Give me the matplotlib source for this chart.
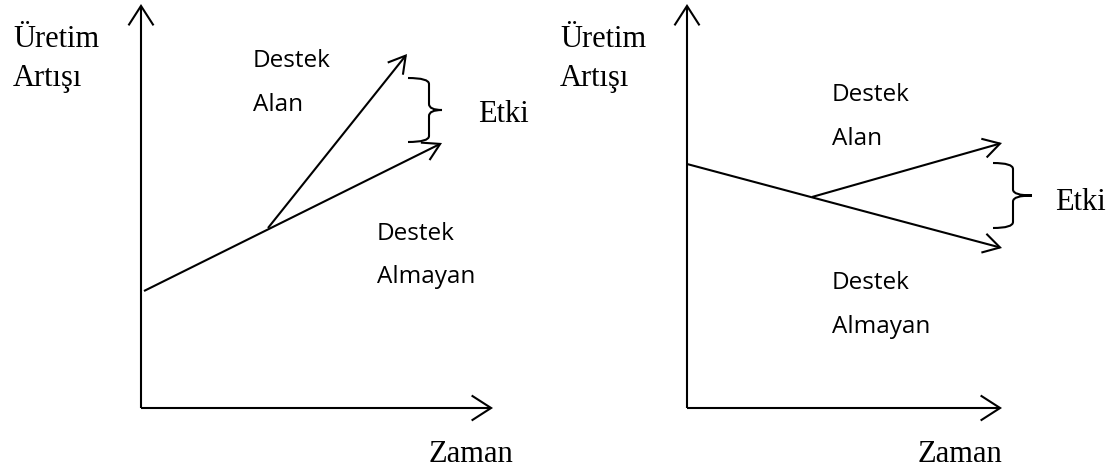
import matplotlib
matplotlib.use("Agg")
import matplotlib.pyplot as plt
from matplotlib.patches import FancyArrowPatch, PathPatch
from matplotlib.path import Path

# schematic values, measured from the origin of each panel (x = Zaman, y = Üretim Artışı)
axis_len_left = [352, 404]      # x-axis length, y-axis length
axis_len_right = [315, 404]

left_almayan_x = [3, 301]
left_almayan_y = [117, 265]
left_alan_x = [127, 266]
left_alan_y = [180, 354]
left_brace = [267, 288, 301, 266, 330]   # end x, spine x, tip x, bottom y, top y

right_almayan_x = [0, 315]
right_almayan_y = [244, 160]
right_alan_x = [125, 315]
right_alan_y = [211, 265]
right_brace = [306, 326, 345, 180, 245]

y_label = ["Üretim", "Artışı"]
x_label = "Zaman"
alan_label = ["Destek", "Alan"]
almayan_label = ["Destek", "Almayan"]
etki_label = "Etki"

SERIF = "Liberation Serif"
SANS = "Open Sans"
LW = 1.5


def arrow(ax, x, y, hl=12, hw=7):
    a = FancyArrowPatch((x[0], y[0]), (x[1], y[1]),
                        arrowstyle=f"->,head_length={hl},head_width={hw}",
                        mutation_scale=1, lw=LW, color="black",
                        shrinkA=0, shrinkB=0, joinstyle="miter", capstyle="butt")
    ax.add_patch(a)


def brace(ax, b):
    xe, xs, xt, yb, yt = b
    ym = (yb + yt) / 2
    r = 6
    verts = [(xe, yt), (xs, yt), (xs, yt - r),
             (xs, ym + r), (xs, ym), (xt, ym),
             (xt, ym), (xs, ym), (xs, ym - r),
             (xs, yb + r), (xs, yb), (xe, yb)]
    codes = [Path.MOVETO, Path.CURVE3, Path.CURVE3,
             Path.LINETO, Path.CURVE3, Path.CURVE3,
             Path.MOVETO, Path.CURVE3, Path.CURVE3,
             Path.LINETO, Path.CURVE3, Path.CURVE3]
    ax.add_patch(PathPatch(Path(verts, codes), fill=False, lw=LW, color="black"))


def lines(ax, x, y, rows, gap, **kw):
    # one text per row, y is the baseline of the first row
    for i, row in enumerate(rows):
        ax.text(x, y - i * gap, row, **kw)


W, H = 1119, 472
fig = plt.figure(figsize=(W / 100, H / 100), dpi=100)

# left panel, origin at pixel (141, 408)
ax1 = fig.add_axes([0, 0, 560 / W, 1])
ax1.set_xlim(-141, 419)
ax1.set_ylim(408 - H, 408)
# right panel, origin at pixel (687, 408)
ax2 = fig.add_axes([560 / W, 0, 559 / W, 1])
ax2.set_xlim(560 - 687, W - 687)
ax2.set_ylim(408 - H, 408)

for ax in (ax1, ax2):
    ax.axis("off")

# axes with arrow heads
arrow(ax1, [0, 0], [0, axis_len_left[1]], hl=14, hw=9)
arrow(ax1, [0, axis_len_left[0]], [0, 0], hl=14, hw=9)
arrow(ax2, [0, 0], [0, axis_len_right[1]], hl=14, hw=9)
arrow(ax2, [0, axis_len_right[0]], [0, 0], hl=14, hw=9)

# left: both rising, supported one steeper
arrow(ax1, left_almayan_x, left_almayan_y)
arrow(ax1, left_alan_x, left_alan_y)
brace(ax1, left_brace)

# right: falling without support, rising with support
arrow(ax2, right_almayan_x, right_almayan_y)
arrow(ax2, right_alan_x, right_alan_y)
brace(ax2, right_brace)

serif_kw = dict(family=SERIF, fontsize=22, va="baseline", ha="left")
sans_kw = dict(family=SANS, fontsize=17.5, va="baseline", ha="left")

lines(ax1, -128, 361, y_label, 39, **serif_kw)
lines(ax2, -127, 361, y_label, 39, **serif_kw)
ax1.text(372, -54, x_label, family=SERIF, fontsize=22, va="baseline", ha="right")
ax2.text(315, -54, x_label, family=SERIF, fontsize=22, va="baseline", ha="right")
ax1.text(337, 286, etki_label, **serif_kw)
ax2.text(368, 198, etki_label, **serif_kw)

lines(ax1, 112, 341, alan_label, 44, **sans_kw)
lines(ax1, 236, 168, almayan_label, 43, **sans_kw)
lines(ax2, 145, 307, alan_label, 44, **sans_kw)
lines(ax2, 145, 119, almayan_label, 44, **sans_kw)

fig.savefig("out.png", dpi=100)
